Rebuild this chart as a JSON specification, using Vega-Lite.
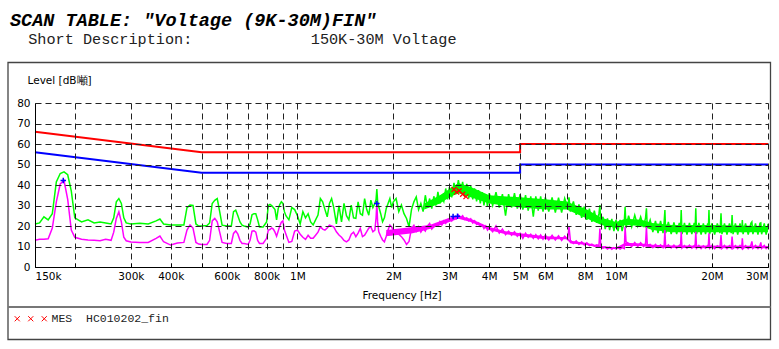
{
  "$schema": "https://vega.github.io/schema/vega-lite/v6.json",
  "width": 733,
  "height": 164,
  "autosize": {"type": "none"},
  "padding": {"left": 35, "top": 103, "right": 11, "bottom": 82},
  "background": "white",
  "config": {"view": {"stroke": null}, "font": "DejaVu Sans"},
  "title": {
    "text": "SCAN TABLE: \"Voltage (9K-30M)FIN\"",
    "subtitle": "\u200b\u00a0\u00a0Short Description:\u00a0\u00a0\u00a0\u00a0\u00a0\u00a0\u00a0\u00a0\u00a0\u00a0\u00a0\u00a0\u00a0150K-30M Voltage",
    "anchor": "start",
    "frame": "group",
    "dx": -25,
    "offset": 15,
    "font": "Liberation Mono",
    "fontSize": 18.5,
    "fontStyle": "italic",
    "fontWeight": "bold",
    "color": "#000000",
    "subtitleFont": "Liberation Mono",
    "subtitleFontSize": 15.2,
    "subtitleColor": "#222222",
    "subtitlePadding": 2
  },
  "datasets": {
    "tr": [
      {"f":0.15,"pk":21,"av":13},{"f":0.155,"pk":21.5,"av":13.5},{"f":0.16,"pk":24.5,"av":13.5},{"f":0.165,"pk":23,"av":13.8},{"f":0.17,"pk":26,"av":19},{"f":0.175,"pk":41.5,"av":31.8},{"f":0.18,"pk":45.6,"av":40.5},{"f":0.185,"pk":46.4,"av":42.2},{"f":0.19,"pk":45,"av":33},{"f":0.195,"pk":37,"av":18},{"f":0.2,"pk":24,"av":14.5},
      {"f":0.21,"pk":22,"av":13.5},{"f":0.22,"pk":23,"av":13.2},{"f":0.23,"pk":21.5,"av":13},{"f":0.24,"pk":22,"av":12.8},{"f":0.25,"pk":21.5,"av":13.5},{"f":0.26,"pk":21,"av":13},{"f":0.265,"pk":24,"av":17},{"f":0.27,"pk":31.8,"av":23.7},{"f":0.275,"pk":33.4,"av":26.9},{"f":0.28,"pk":31,"av":22},{"f":0.285,"pk":24,"av":14.5},{"f":0.29,"pk":21.5,"av":12.8},{"f":0.3,"pk":21,"av":12.2},
      {"f":0.32,"pk":21.3,"av":12},{"f":0.34,"pk":21,"av":12},{"f":0.36,"pk":22.5,"av":14},{"f":0.37,"pk":23.4,"av":15.1},{"f":0.38,"pk":21,"av":12.3},{"f":0.4,"pk":20.5,"av":10.7},{"f":0.42,"pk":20.5,"av":11.7},{"f":0.44,"pk":20.5,"av":12},{"f":0.45,"pk":29,"av":18},{"f":0.46,"pk":30.2,"av":20.5},{"f":0.47,"pk":30,"av":19},{"f":0.48,"pk":21,"av":12},{"f":0.49,"pk":20,"av":11.2},{"f":0.5,"pk":20,"av":11},
      {"f":0.52,"pk":20.2,"av":11},{"f":0.53,"pk":21.5,"av":13},{"f":0.54,"pk":31,"av":22.5},{"f":0.55,"pk":32.5,"av":23.7},{"f":0.56,"pk":33.4,"av":22},{"f":0.57,"pk":27,"av":17},{"f":0.58,"pk":20.4,"av":12},{"f":0.6,"pk":20,"av":11.5},{"f":0.62,"pk":20,"av":11.5},{"f":0.63,"pk":27,"av":16.4},{"f":0.64,"pk":27.7,"av":17.6},{"f":0.65,"pk":25,"av":16},{"f":0.66,"pk":22,"av":13},{"f":0.67,"pk":20.4,"av":11.5},{"f":0.68,"pk":20,"av":11.5},{"f":0.7,"pk":19.5,"av":11},
      {"f":0.71,"pk":21,"av":13},{"f":0.72,"pk":25.5,"av":17.5},{"f":0.73,"pk":26,"av":17.7},{"f":0.74,"pk":26,"av":17},{"f":0.75,"pk":23,"av":13},{"f":0.76,"pk":19.5,"av":11.5},{"f":0.78,"pk":19.5,"av":11.5},{"f":0.8,"pk":22,"av":14},{"f":0.81,"pk":30,"av":18},{"f":0.82,"pk":30.5,"av":18.3},{"f":0.83,"pk":30,"av":19},{"f":0.84,"pk":29,"av":18.5},{"f":0.85,"pk":28,"av":17},{"f":0.86,"pk":23,"av":15},{"f":0.87,"pk":28.5,"av":17.5},{"f":0.88,"pk":30.5,"av":20},{"f":0.89,"pk":31.8,"av":21.9},{"f":0.9,"pk":31,"av":22.5},{"f":0.91,"pk":27,"av":18},{"f":0.92,"pk":25,"av":16},{"f":0.94,"pk":23,"av":12},{"f":0.96,"pk":29,"av":12.5},{"f":0.98,"pk":28,"av":17.5},
      {"f":1,"pk":25,"av":18},{"f":1.02,"pk":21,"av":16},{"f":1.04,"pk":27,"av":14.5},{"f":1.06,"pk":24,"av":13.5},{"f":1.08,"pk":26,"av":15.5},{"f":1.1,"pk":22,"av":14},{"f":1.12,"pk":20.5,"av":14},{"f":1.14,"pk":23,"av":15.5},{"f":1.16,"pk":25.3,"av":17},{"f":1.18,"pk":33.4,"av":19.6},{"f":1.2,"pk":31.8,"av":18.5},{"f":1.22,"pk":28,"av":18},{"f":1.24,"pk":24.5,"av":19},{"f":1.26,"pk":31,"av":20.4},{"f":1.28,"pk":33.4,"av":20},
      {"f":1.3,"pk":29,"av":19.6},{"f":1.325,"pk":21,"av":17.2},{"f":1.35,"pk":30,"av":15.6},{"f":1.375,"pk":22,"av":14.5},{"f":1.4,"pk":31,"av":13},{"f":1.425,"pk":25,"av":12.3},{"f":1.45,"pk":23,"av":13.2},{"f":1.475,"pk":30.2,"av":16},{"f":1.5,"pk":24,"av":17},{"f":1.525,"pk":23.7,"av":14.8},{"f":1.55,"pk":31.8,"av":16.5},{"f":1.575,"pk":26,"av":18.8},{"f":1.6,"pk":25.3,"av":14.8},{"f":1.625,"pk":33.4,"av":15.5},{"f":1.65,"pk":28,"av":17.2},{"f":1.675,"pk":25.3,"av":19},{"f":1.7,"pk":32.6,"av":19.6},{"f":1.725,"pk":29,"av":17.2},{"f":1.75,"pk":31,"av":18},{"f":1.765,"pk":33,"av":24},{"f":1.775,"pk":38,"av":31},{"f":1.785,"pk":32,"av":22},{"f":1.8,"pk":29.4,"av":17.2},{"f":1.825,"pk":26,"av":15},{"f":1.85,"pk":22.1,"av":13.2},{"f":1.875,"pk":24,"av":12.3},{"f":1.9,"pk":28.6,"av":15},{"f":1.925,"pk":31,"av":18},{"f":1.95,"pk":33.4,"av":20.4},{"f":1.975,"pk":29,"av":19.5},
      {"f":2,"pk":31.8,"av":18},{"f":2.04,"pk":33.4,"av":17.5},{"f":2.08,"pk":27,"av":16},{"f":2.12,"pk":30.2,"av":14.8},{"f":2.16,"pk":26,"av":13.2},{"f":2.2,"pk":23.7,"av":11},{"f":2.24,"pk":19.6,"av":12.5},{"f":2.28,"pk":28,"av":18.8},{"f":2.32,"pk":31.8,"av":20.4},{"f":2.36,"pk":34.2,"av":17.5},{"f":2.4,"pk":28,"av":19.6},{"f":2.44,"pk":31,"av":17},{"f":2.48,"pk":27,"av":18.8},{"f":2.52,"pk":35,"av":17.5},{"f":2.56,"pk":29,"av":20},{"f":2.6,"pk":33.4,"av":21.2},{"f":2.64,"pk":28.5,"av":18.5},{"f":2.68,"pk":34.5,"av":19.6},{"f":2.72,"pk":30,"av":21},{"f":2.76,"pk":36.7,"av":20},{"f":2.8,"pk":31,"av":22.1},{"f":2.84,"pk":34.2,"av":20.5},{"f":2.88,"pk":32,"av":22.5},{"f":2.92,"pk":38.3,"av":21.3},{"f":2.96,"pk":33,"av":23},
      {"f":3,"pk":39,"av":23.7},{"f":3.05,"pk":34,"av":22.5},{"f":3.1,"pk":41,"av":24.5},{"f":3.15,"pk":35.5,"av":23.5},{"f":3.2,"pk":42.4,"av":25.3},{"f":3.25,"pk":36,"av":24},{"f":3.3,"pk":41.5,"av":25},{"f":3.35,"pk":34.5,"av":23.2},{"f":3.4,"pk":40.5,"av":24},{"f":3.45,"pk":33.5,"av":22.5},{"f":3.5,"pk":39.5,"av":23.5},{"f":3.55,"pk":33,"av":21.5},{"f":3.6,"pk":38.3,"av":22.5},{"f":3.65,"pk":32,"av":20.8},{"f":3.7,"pk":37.5,"av":21.5},{"f":3.75,"pk":31,"av":19.8},{"f":3.8,"pk":36.5,"av":20.5},{"f":3.85,"pk":30,"av":18.8},{"f":3.9,"pk":35.5,"av":20},{"f":3.95,"pk":29.5,"av":18},
      {"f":4,"pk":36,"av":19},{"f":4.1,"pk":30,"av":17.2},{"f":4.2,"pk":36.5,"av":20},{"f":4.3,"pk":29,"av":16.5},{"f":4.4,"pk":35.5,"av":18.5},{"f":4.5,"pk":25,"av":15.8},{"f":4.6,"pk":35.5,"av":17.5},{"f":4.7,"pk":29,"av":15.5},{"f":4.8,"pk":36,"av":17.2},{"f":4.9,"pk":28.5,"av":15},
      {"f":5,"pk":35.5,"av":16.5},{"f":5.1,"pk":28,"av":14},{"f":5.2,"pk":35,"av":16.5},{"f":5.3,"pk":27.5,"av":14.5},{"f":5.4,"pk":34.5,"av":16},{"f":5.5,"pk":24.5,"av":14},{"f":5.6,"pk":34.5,"av":15.8},{"f":5.7,"pk":27.5,"av":13.8},{"f":5.8,"pk":34.5,"av":15.6},{"f":5.9,"pk":27,"av":13.5},
      {"f":6,"pk":34,"av":15.5},{"f":6.15,"pk":27,"av":13.2},{"f":6.3,"pk":34,"av":15.5},{"f":6.45,"pk":26.5,"av":13.2},{"f":6.6,"pk":33.8,"av":15.2},{"f":6.75,"pk":26.5,"av":13},{"f":6.9,"pk":33.5,"av":15},{"f":7.05,"pk":29,"av":13.5},{"f":7.12,"pk":34,"av":19.6},{"f":7.19,"pk":27,"av":13},{"f":7.35,"pk":32,"av":11.5},{"f":7.5,"pk":25.5,"av":12.8},{"f":7.65,"pk":30.5,"av":11},{"f":7.8,"pk":24,"av":12.3},{"f":7.95,"pk":29.5,"av":10.8},
      {"f":8.1,"pk":23,"av":11.8},{"f":8.25,"pk":28.5,"av":10.5},{"f":8.4,"pk":22,"av":11.2},{"f":8.55,"pk":27.5,"av":10.2},{"f":8.7,"pk":21.5,"av":10.8},{"f":8.84,"pk":26,"av":10.5},{"f":8.9,"pk":30.2,"av":18.8},{"f":8.96,"pk":21,"av":10},{"f":9.1,"pk":24.5,"av":9.2},{"f":9.25,"pk":18.5,"av":9.8},{"f":9.4,"pk":23.7,"av":8.8},{"f":9.55,"pk":18,"av":9.6},{"f":9.7,"pk":23.5,"av":8.6},{"f":9.85,"pk":17.5,"av":9.4},
      {"f":10,"pk":23,"av":8.8},{"f":10.15,"pk":17.5,"av":9.5},{"f":10.3,"pk":23,"av":8.8},{"f":10.45,"pk":17.5,"av":9.5},{"f":10.62,"pk":22.5,"av":9},{"f":10.68,"pk":29.4,"av":19.6},{"f":10.75,"pk":19,"av":12.3},{"f":10.95,"pk":25,"av":11.5},{"f":11.2,"pk":19.6,"av":10},{"f":11.45,"pk":25.3,"av":12},{"f":11.7,"pk":20,"av":10},{"f":11.95,"pk":24.5,"av":11.8},{"f":12.2,"pk":19.5,"av":10},{"f":12.38,"pk":24,"av":11.5},{"f":12.46,"pk":28.6,"av":19.6},{"f":12.54,"pk":19,"av":10.5},{"f":12.8,"pk":22.9,"av":11},
      {"f":13.05,"pk":17,"av":9.5},{"f":13.3,"pk":22.5,"av":11},{"f":13.55,"pk":16.5,"av":9.5},{"f":13.8,"pk":22.5,"av":10.8},{"f":14.05,"pk":16.5,"av":9.4},{"f":14.16,"pk":22,"av":10.5},{"f":14.24,"pk":27.8,"av":18},{"f":14.32,"pk":16.5,"av":9.5},{"f":14.6,"pk":22,"av":10.8},{"f":14.9,"pk":16,"av":9.3},{"f":15.2,"pk":21.8,"av":10.7},{"f":15.5,"pk":16,"av":9.2},{"f":15.8,"pk":21.5,"av":10.6},{"f":15.93,"pk":17,"av":9.4},{"f":16.02,"pk":27.8,"av":17.2},{"f":16.11,"pk":16,"av":9.3},{"f":16.4,"pk":21.5,"av":10.5},{"f":16.7,"pk":15.8,"av":9.2},
      {"f":17,"pk":21.5,"av":10.6},{"f":17.3,"pk":16,"av":9.2},{"f":17.6,"pk":21.5,"av":10.4},{"f":17.7,"pk":16.5,"av":9.4},{"f":17.8,"pk":28.6,"av":17.2},{"f":17.9,"pk":16,"av":9.2},{"f":18.2,"pk":21.5,"av":10.5},{"f":18.5,"pk":15.8,"av":9},{"f":18.8,"pk":21.3,"av":10.3},{"f":19.1,"pk":16,"av":9.2},{"f":19.4,"pk":21.3,"av":10.5},{"f":19.48,"pk":17,"av":9.3},{"f":19.58,"pk":27.8,"av":16.4},{"f":19.68,"pk":16,"av":9.2},
      {"f":20,"pk":21.3,"av":10.4},{"f":20.4,"pk":15.8,"av":9},{"f":20.8,"pk":21.3,"av":10.4},{"f":21.2,"pk":16.5,"av":9.3},{"f":21.36,"pk":26.2,"av":15.6},{"f":21.5,"pk":16,"av":9.1},{"f":21.9,"pk":21.3,"av":10.5},{"f":22.3,"pk":15.8,"av":9},{"f":22.7,"pk":21.3,"av":10.4},{"f":23,"pk":16.5,"av":9.3},{"f":23.14,"pk":25.3,"av":14.8},{"f":23.3,"pk":16,"av":9.1},{"f":23.7,"pk":21.3,"av":10.4},{"f":24.1,"pk":15.8,"av":9},{"f":24.5,"pk":21.3,"av":10.5},{"f":24.8,"pk":17,"av":9.3},{"f":24.92,"pk":22.9,"av":14},{"f":25.05,"pk":16,"av":9},
      {"f":25.5,"pk":21.3,"av":10.4},{"f":26,"pk":15.8,"av":9},{"f":26.5,"pk":21.3,"av":10.5},{"f":26.7,"pk":22,"av":12.5},{"f":26.9,"pk":16,"av":9.1},{"f":27.4,"pk":21.3,"av":10.5},{"f":27.9,"pk":15.8,"av":9},{"f":28.3,"pk":21.3,"av":10.4},{"f":28.48,"pk":21.5,"av":12},{"f":28.65,"pk":16,"av":9.1},{"f":29.2,"pk":21.3,"av":10.5},{"f":29.6,"pk":15.8,"av":9},{"f":30,"pk":21,"av":10}
    ],
    "gb": [
      {"f":2.5,"v":28,"v2":31},{"f":2.8,"v":31,"v2":35},{"f":3,"v":34,"v2":38},{"f":3.2,"v":36,"v2":41},{"f":3.5,"v":34,"v2":39},{"f":4,"v":31,"v2":35},{"f":5,"v":29,"v2":34},{"f":6,"v":28,"v2":33},{"f":7,"v":28,"v2":32},{"f":7.5,"v":26,"v2":30},{"f":8,"v":24,"v2":28.5},{"f":9,"v":20.5,"v2":24},{"f":10,"v":19,"v2":22},{"f":10.7,"v":20.5,"v2":23.5},{"f":12,"v":20,"v2":23},{"f":13,"v":18,"v2":21.5},{"f":15,"v":17,"v2":20.5},{"f":20,"v":17,"v2":20.5},{"f":30,"v":17,"v2":20}
    ],
    "mb": [
      {"f":1.9,"v":15,"v2":18},{"f":2.3,"v":16.5,"v2":19.5},{"f":2.6,"v":18.5,"v2":20.5},{"f":3,"v":22,"v2":24},{"f":3.2,"v":23.5,"v2":25},{"f":3.5,"v":22,"v2":23.5},{"f":4,"v":18,"v2":19.5},{"f":4.5,"v":16,"v2":17.5},{"f":5,"v":15,"v2":16.5},{"f":6,"v":13.5,"v2":15},{"f":7,"v":13.5,"v2":14.5},{"f":7.2,"v":11.5,"v2":12.8},{"f":8,"v":10.8,"v2":11.8},{"f":9,"v":9.3,"v2":10.2},{"f":10,"v":8.8,"v2":9.5},{"f":10.7,"v":10.2,"v2":11.8},{"f":12,"v":10.2,"v2":11.5},{"f":13,"v":9.5,"v2":10.8},{"f":15,"v":9.3,"v2":10.5},{"f":30,"v":9.2,"v2":10.3}
    ],
    "lim": [
      {"f":0.15,"qp":66,"al":56,"i":1},{"f":0.5,"qp":56,"al":46,"i":2},{"f":5,"qp":56,"al":46,"i":3},{"f":5,"qp":60,"al":50,"i":4},{"f":30,"qp":60,"al":50,"i":5}
    ],
    "mes": [
      {"f":3.1,"v":37.8,"src":"MES\u00a0\u00a0HC010202_fin"},{"f":3.16,"v":36.5,"src":"MES\u00a0\u00a0HC010202_fin"},{"f":3.22,"v":37.2,"src":"MES\u00a0\u00a0HC010202_fin"},{"f":3.3,"v":35.5,"src":"MES\u00a0\u00a0HC010202_fin"},{"f":3.38,"v":34.3,"src":"MES\u00a0\u00a0HC010202_fin"}
    ],
    "avm": [
      {"f":0.184,"v":42.2},{"f":1.775,"v":31},{"f":3.08,"v":24.6},{"f":3.18,"v":24.8}
    ]
  },
  "encoding": {
    "x": {"field": "f", "type": "quantitative", "scale": {"type": "log", "domain": [0.15, 30], "nice": false},
      "axis": {
        "values": [0.15,0.2,0.3,0.4,0.5,0.6,0.7,0.8,0.9,1,2,3,4,5,6,7,8,9,10,20,30],
        "labelExpr": "indexof([0.15,0.3,0.4,0.6,0.8,1,2,3,4,5,6,8,10,20,30], datum.value) >= 0 ? (datum.value < 1 ? round(datum.value*1000) + 'k' : datum.value + 'M') : ''",
        "labelFlush": true, "labelOverlap": false, "labelFont": "DejaVu Sans", "labelFontSize": 10.5, "labelColor": "#000000", "labelPadding": 8,
        "tickSize": -4, "tickColor": "#000000", "domainColor": "#000000", "domainWidth": 1,
        "grid": true, "gridDash": [6, 4], "gridColor": "#222222", "gridWidth": 1, "gridOpacity": 1, "zindex": 1,
        "title": "Frequency [Hz]", "titleFont": "DejaVu Sans", "titleFontSize": 10.5, "titleFontWeight": "normal", "titleColor": "#000000", "titlePadding": 9
      }},
    "y": {"field": "v", "type": "quantitative", "scale": {"domain": [0, 80], "nice": false, "zero": false},
      "axis": {
        "values": [0,10,20,30,40,50,60,70,80],
        "tickSize": 0, "labelPadding": 5, "labelFont": "DejaVu Sans", "labelFontSize": 10.5, "labelColor": "#000000",
        "domainColor": "#000000", "domainWidth": 1,
        "grid": true, "gridDash": [6, 4], "gridColor": "#222222", "gridWidth": 1, "gridOpacity": 1, "zindex": 1,
        "title": "Level [dB噸]", "titleAngle": 0, "titleAlign": "left", "titleBaseline": "middle", "titleX": -8, "titleY": -23,
        "titleFont": "DejaVu Sans", "titleFontSize": 10.5, "titleFontWeight": "normal", "titleColor": "#000000"
      }}
  },
  "layer": [
    {
      "data": {"values": [{}]},
      "mark": {"type": "rect", "fillOpacity": 0, "stroke": "#444444", "strokeWidth": 1.3},
      "encoding": {"x": {"value": -27}, "x2": {"value": 735.5}, "y": {"value": -40.5}, "y2": {"value": 236.5}}
    },
    {
      "data": {"values": [{}]},
      "mark": {"type": "rule", "stroke": "#777777", "strokeWidth": 2},
      "encoding": {"x": {"value": -27}, "x2": {"value": 735.5}, "y": {"value": 204}}
    },
    {
      "data": {"name": "gb"},
      "mark": {"type": "area", "color": "#00ff00", "opacity": 1},
      "encoding": {"y2": {"field": "v2"}}
    },
    {
      "data": {"name": "tr"},
      "transform": [{"fold": ["pk"], "as": ["k", "v"]}],
      "mark": {"type": "line", "color": "#00ff00", "strokeWidth": 1.5}
    },
    {
      "data": {"name": "mb"},
      "mark": {"type": "area", "color": "#ff00ff", "opacity": 1},
      "encoding": {"y2": {"field": "v2"}}
    },
    {
      "data": {"name": "tr"},
      "transform": [{"fold": ["av"], "as": ["k", "v"]}],
      "mark": {"type": "line", "color": "#ff00ff", "strokeWidth": 1.5}
    },
    {
      "data": {"name": "lim"},
      "transform": [{"fold": ["qp"], "as": ["k", "v"]}],
      "mark": {"type": "line", "color": "#ff0000", "strokeWidth": 2},
      "encoding": {"order": {"field": "i", "type": "quantitative"}}
    },
    {
      "data": {"name": "lim"},
      "transform": [{"fold": ["al"], "as": ["k", "v"]}],
      "mark": {"type": "line", "color": "#0000ff", "strokeWidth": 2},
      "encoding": {"order": {"field": "i", "type": "quantitative"}}
    },
    {
      "data": {"name": "avm"},
      "mark": {"type": "point", "shape": "M-1,0L1,0M0,-1L0,1", "filled": false, "size": 30, "strokeWidth": 1.5, "color": "#0000ff", "opacity": 1}
    },
    {
      "data": {"name": "mes"},
      "mark": {"type": "point", "shape": "M-1,-1L1,1M-1,1L1,-1", "filled": false, "size": 25, "strokeWidth": 1.2, "opacity": 1},
      "encoding": {
        "color": {"field": "src", "type": "nominal", "scale": {"range": ["#ff0000"]},
          "legend": {
            "orient": "none", "legendX": -10, "legendY": 210, "title": null, "padding": 0,
            "symbolSize": 36, "symbolStrokeWidth": 1, "symbolStrokeColor": "#ff0000", "symbolFillColor": "transparent",
            "symbolType": "M-5.35,-0.85L-3.65,0.85M-5.35,0.85L-3.65,-0.85M-0.85,-0.85L0.85,0.85M-0.85,0.85L0.85,-0.85M3.65,-0.85L5.35,0.85M3.65,0.85L5.35,-0.85",
            "labelFont": "Liberation Mono", "labelFontSize": 11.5, "labelColor": "#222222", "labelOffset": 15,
            "encode": {"symbols": {"update": {
              "shape": {"value": "M-5.35,-0.85L-3.65,0.85M-5.35,0.85L-3.65,-0.85M-0.85,-0.85L0.85,0.85M-0.85,0.85L0.85,-0.85M3.65,-0.85L5.35,0.85M3.65,0.85L5.35,-0.85"},
              "stroke": {"value": "#ff0000"}, "fill": {"value": "transparent"}, "strokeWidth": {"value": 1}, "size": {"value": 36}
            }}}
          }}
      }
    }
  ]
}
